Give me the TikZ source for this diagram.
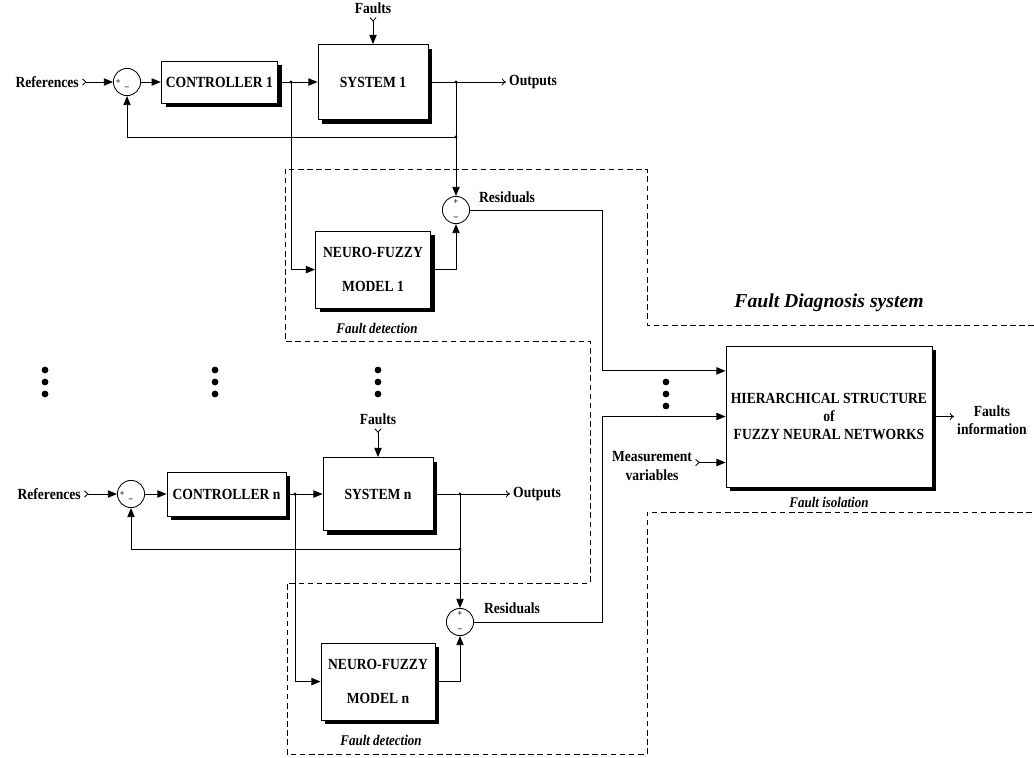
\documentclass[tikz,border=0pt]{standalone}
\usepackage{fontspec}
\setmainfont[FakeStretch=0.88]{Liberation Serif}
\newfontfamily\titlefont{Liberation Serif}
\usetikzlibrary{arrows.meta,positioning,shadows}

\begin{document}
\begin{tikzpicture}[node distance=2cm,on grid,line width=0.6pt,>={Triangle[length=6.5pt,width=5.2pt]}]
       \tikzstyle{every node}=[font=\bfseries\fontsize{11}{12.5}\selectfont]
       \tikzstyle{block}=[draw, fill=white, align=center, drop shadow={shadow xshift=3.1pt, shadow yshift=-3.1pt, fill=black, opacity=1}]
       \tikzstyle{summer}=[draw, circle, fill=white, minimum size=0.68cm, inner sep=0pt]
       \tikzstyle{lbl}=[inner sep=2pt]
       \tikzstyle{note}=[font=\bfseries\itshape\fontsize{10.5}{12}\selectfont]
       \tikzstyle{sgn}=[font=\bfseries\fontsize{6.5}{6.5}\selectfont, inner sep=0pt]
       \tikzstyle{tail}=[{Straight Barb[reversed,length=2.5pt,width=4.5pt]}->]
       \tikzstyle{outarr}=[-{To[length=3pt,width=5pt]}]
       \tikzstyle{junc}=[circle, fill, inner sep=0pt, minimum size=2.2pt]
       \tikzstyle{bigdot}=[circle, fill, inner sep=0pt, minimum size=0.17cm]
       \tikzstyle{border}=[dash pattern=on 4pt off 2.5pt]

       \useasboundingbox (0,0) rectangle (25.85,-18.925);

       % first loop
       \node[summer] (sumc1) at (3.175,-2.05) {};
       \node[block, minimum width=2.875cm, minimum height=1.05cm] (ctrl1) [right=2.31cm of sumc1] {CONTROLLER 1};
       \node[block, minimum width=2.75cm, minimum height=1.875cm] (sys1) [right=3.84cm of ctrl1] {SYSTEM 1};
       \node[block, minimum width=2.875cm, minimum height=1.925cm] (nf1) [below=4.69cm of sys1] {NEURO-FUZZY\\[12pt] MODEL 1};
       \node[summer] (sumr1) at (11.4,-5.25) {};
       \node[lbl, anchor=east] (ref1) at (2.05,-2.05) {References};
       \node[lbl] (flt1) [above=1.84cm of sys1] {Faults};
       \node[lbl, anchor=west] (out1) at (12.65,-2.05) {Outputs};
       \node[lbl] (res1) at (12.675,-4.925) {Residuals};
       \node[note] (fd1) at (9.425,-8.2) {Fault detection};
       \node[sgn] (pc1) at ([xshift=-0.22cm]sumc1.center) {+};
       \node[sgn] (mc1) at ([yshift=-0.16cm]sumc1.center) {--};
       \node[sgn] (pr1) at ([yshift=0.2cm]sumr1.center) {+};
       \node[sgn] (mr1) at ([yshift=-0.2cm]sumr1.center) {--};

       \coordinate (c1) at (7.275,-2.05);
       \coordinate (o1) at (11.4,-2.05);
       \coordinate (f1) at (11.4,-3.425);
       \coordinate (r1) at (15.05,-5.25);

       % n-th loop
       \node[summer] (sumcn) at (3.275,-12.35) {};
       \node[block, minimum width=2.975cm, minimum height=1.1cm] (ctrln) [right=2.3875cm of sumcn] {CONTROLLER n};
       \node[block, minimum width=2.75cm, minimum height=1.825cm] (sysn) [right=3.7875cm of ctrln] {SYSTEM n};
       \node[block, minimum width=2.85cm, minimum height=1.925cm] (nfn) [below=4.69cm of sysn] {NEURO-FUZZY\\[12pt] MODEL n};
       \node[summer] (sumrn) at (11.5,-15.55) {};
       \node[lbl, anchor=east] (refn) at (2.1,-12.35) {References};
       \node[lbl] (fltn) [above=1.86cm of sysn] {Faults};
       \node[lbl, anchor=west] (outn) at (12.75,-12.35) {Outputs};
       \node[lbl] (resn) at (12.8,-15.2) {Residuals};
       \node[note] (fdn) at (9.525,-18.5) {Fault detection};
       \node[sgn] (pcn) at ([xshift=-0.22cm]sumcn.center) {+};
       \node[sgn] (mcn) at ([yshift=-0.16cm]sumcn.center) {--};
       \node[sgn] (prn) at ([yshift=0.2cm]sumrn.center) {+};
       \node[sgn] (mrn) at ([yshift=-0.2cm]sumrn.center) {--};

       \coordinate (cn) at (7.375,-12.35);
       \coordinate (on) at (11.5,-12.35);
       \coordinate (fn) at (11.5,-13.725);
       \coordinate (rn) at (15.05,-15.55);

       % isolation part
       \node[block, minimum width=5.15cm, minimum height=3.525cm] (hier) at (20.725,-10.4125) {HIERARCHICAL STRUCTURE\\ of\\ FUZZY NEURAL NETWORKS};
       \node[lbl, align=center] (meas) at (16.3,-11.65) {Measurement\\[1pt] variables};
       \node[lbl, align=center] (finfo) at (24.8,-10.5) {Faults\\ information};
       \node[note] (fiso) [below=2.14cm of hier] {Fault isolation};
       \node[note, font=\titlefont\bfseries\itshape\fontsize{14}{16}\selectfont] (fdsys) at (20.725,-7.575) {Fault Diagnosis system};

       \coordinate (in1) at ([yshift=1.14cm]hier.west);
       \coordinate (inn) at (hier.west);
       \coordinate (mvin) at ([yshift=-1.15cm]hier.west);

       % dots
       \node[bigdot] (da1) at (1.125,-9.25) {};
       \node[bigdot] (da2) at (1.125,-9.55) {};
       \node[bigdot] (da3) at (1.125,-9.85) {};
       \node[bigdot] (db1) at (5.375,-9.25) {};
       \node[bigdot] (db2) at (5.375,-9.55) {};
       \node[bigdot] (db3) at (5.375,-9.85) {};
       \node[bigdot] (dc1) at (9.45,-9.25) {};
       \node[bigdot] (dc2) at (9.45,-9.55) {};
       \node[bigdot] (dc3) at (9.45,-9.85) {};
       \node[bigdot] (dd1) at (16.65,-9.55) {};
       \node[bigdot] (dd2) at (16.65,-9.85) {};
       \node[bigdot] (dd3) at (16.65,-10.15) {};

       % signals of the first loop
       \draw[tail] (ref1.east) -- (sumc1.west);
       \draw[->] (sumc1) -- (ctrl1);
       \draw[->] (ctrl1) -- (sys1);
       \draw[outarr] (sys1) -- (out1);
       \draw[tail] (flt1) -- (sys1);
       \draw[->] (o1) -- (sumr1);
       \draw[->] (f1) -| (sumc1);
       \draw[->] (c1) |- (nf1);
       \draw[->] (nf1) -| (sumr1);
       \draw[->] (sumr1) -- (r1) |- (in1);
       \node[junc] (j1) at (c1) {};
       \node[junc] (j2) at (o1) {};
       \node[junc] (j3) at (f1) {};

       % signals of the n-th loop
       \draw[tail] (refn.east) -- (sumcn.west);
       \draw[->] (sumcn) -- (ctrln);
       \draw[->] (ctrln) -- (sysn);
       \draw[outarr] (sysn) -- (outn);
       \draw[tail] (fltn) -- (sysn);
       \draw[->] (on) -- (sumrn);
       \draw[->] (fn) -| (sumcn);
       \draw[->] (cn) |- (nfn);
       \draw[->] (nfn) -| (sumrn);
       \draw[->] (sumrn) -- (rn) |- (inn);
       \node[junc] (j4) at (cn) {};
       \node[junc] (j5) at (on) {};
       \node[junc] (j6) at (fn) {};

       \draw[tail] (meas.east |- mvin) -- (mvin);
       \draw[outarr] (hier.east) -- (hier.east -| finfo.west);

       % fault diagnosis border
       \draw[border] (25.85,-8.125) -- (16.175,-8.125) -- (16.175,-4.225) -- (7.125,-4.225)
             -- (7.125,-8.525) -- (14.75,-8.525) -- (14.75,-14.575) -- (7.175,-14.575)
             -- (7.175,-18.85) -- (16.175,-18.85) -- (16.175,-12.8) -- (25.85,-12.8);
\end{tikzpicture}
\end{document}
